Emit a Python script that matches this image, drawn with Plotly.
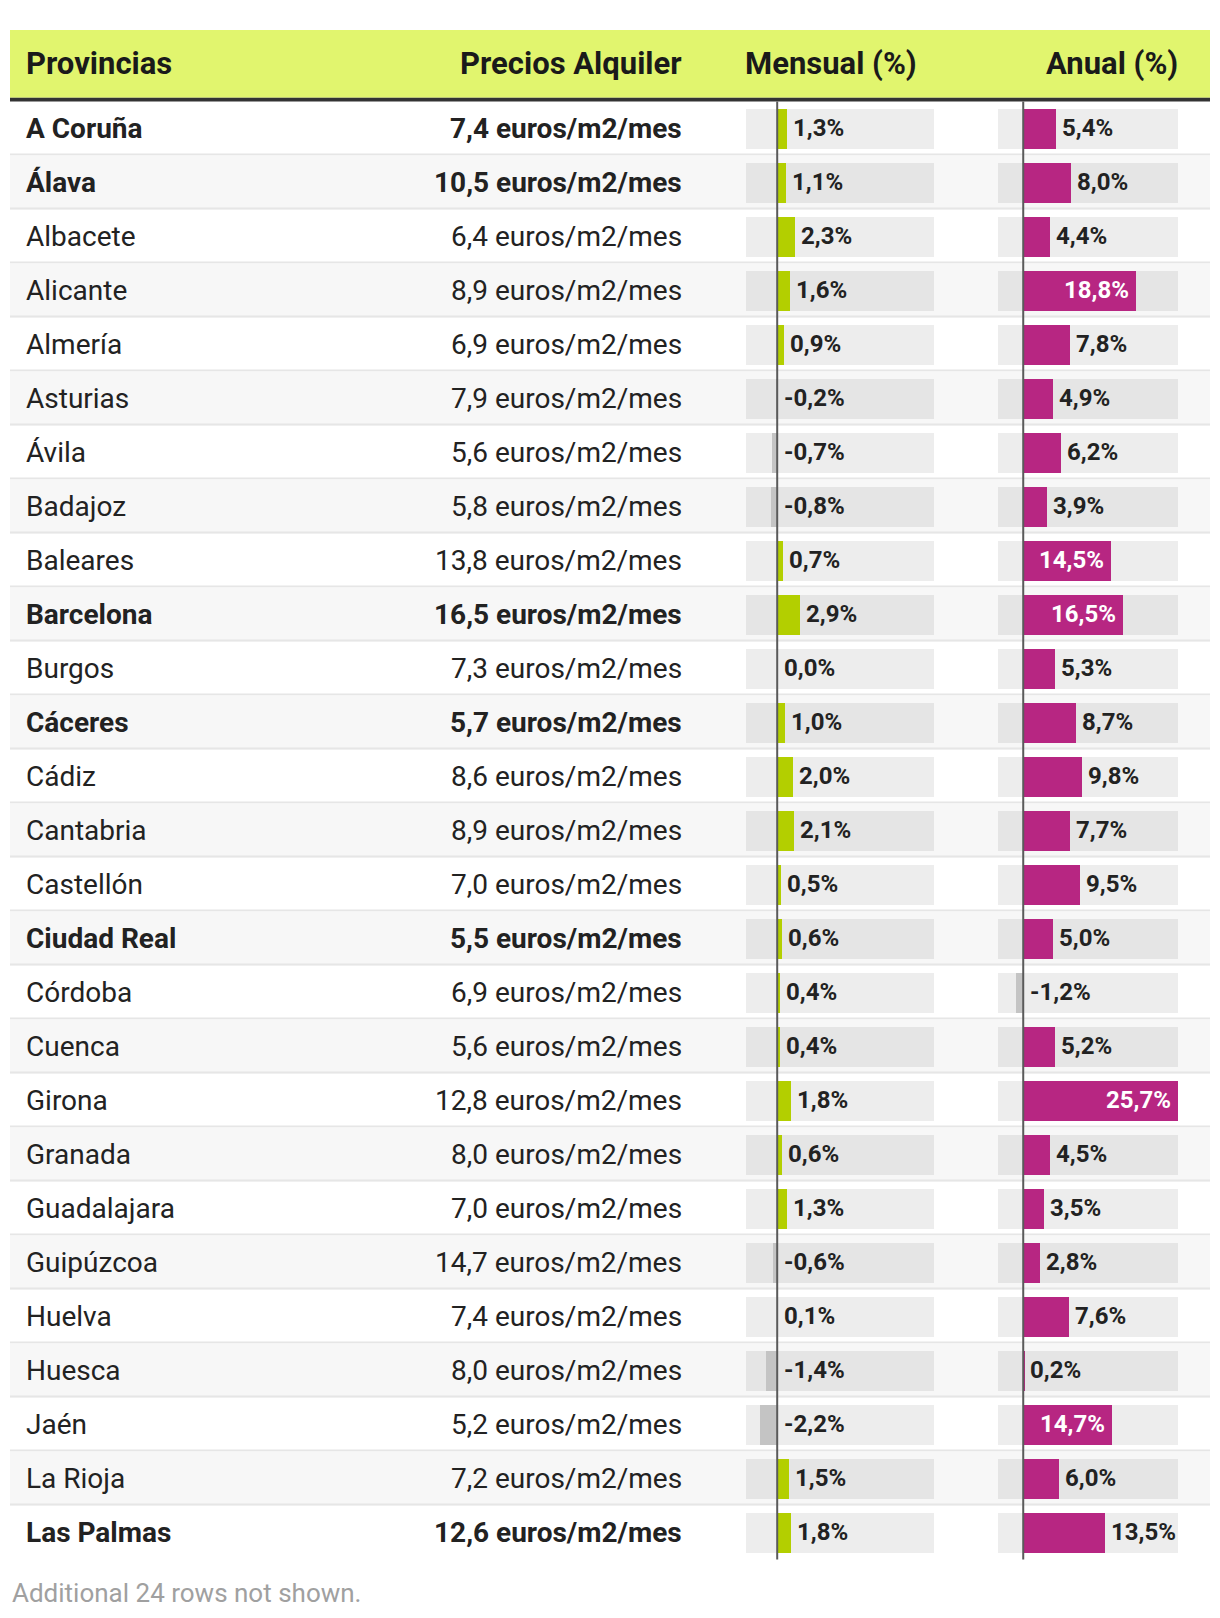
import plotly.graph_objects as go

provincias = ["A Coruña", "Álava", "Albacete", "Alicante", "Almería", "Asturias", "Ávila",
              "Badajoz", "Baleares", "Barcelona", "Burgos", "Cáceres", "Cádiz", "Cantabria",
              "Castellón", "Ciudad Real", "Córdoba", "Cuenca", "Girona", "Granada",
              "Guadalajara", "Guipúzcoa", "Huelva", "Huesca", "Jaén", "La Rioja", "Las Palmas"]
precios = [7.4, 10.5, 6.4, 8.9, 6.9, 7.9, 5.6, 5.8, 13.8, 16.5, 7.3, 5.7, 8.6, 8.9,
           7.0, 5.5, 6.9, 5.6, 12.8, 8.0, 7.0, 14.7, 7.4, 8.0, 5.2, 7.2, 12.6]
mensual = [1.3, 1.1, 2.3, 1.6, 0.9, -0.2, -0.7, -0.8, 0.7, 2.9, 0.0, 1.0, 2.0, 2.1,
           0.5, 0.6, 0.4, 0.4, 1.8, 0.6, 1.3, -0.6, 0.1, -1.4, -2.2, 1.5, 1.8]
anual = [5.4, 8.0, 4.4, 18.8, 7.8, 4.9, 6.2, 3.9, 14.5, 16.5, 5.3, 8.7, 9.8, 7.7,
         9.5, 5.0, -1.2, 5.2, 25.7, 4.5, 3.5, 2.8, 7.6, 0.2, 14.7, 6.0, 13.5]
destacadas = ["A Coruña", "Álava", "Barcelona", "Cáceres", "Ciudad Real", "Las Palmas"]
columnas = ["Provincias", "Precios Alquiler", "Mensual (%)", "Anual (%)"]
filas_ocultas = 24

FONT = "Roboto"
W, H = 1220, 1618
n = len(provincias)
filas = list(range(n))

rango_m = [-3.98, 20.0]
rango_a = [-4.19, 25.7]
ancho_barra = 0.741
sep = 0.037  # grosor del separador (2px)


def coma(v):
    return f"{v:.1f}".replace(".", ",")


def pct(v):
    return ("-" if v < 0 else "") + coma(abs(v)) + "%"


fig = go.Figure()

# cajas grises detras de las barras
for eje, rango in (("x2", rango_m), ("x3", rango_a)):
    fig.add_bar(y=filas, x=[rango[1] - rango[0]] * n, base=rango[0], orientation="h",
                xaxis=eje, yaxis="y", width=ancho_barra,
                marker=dict(color="rgba(0,0,0,0.07)", line_width=0), hoverinfo="skip")

fig.add_bar(y=filas, x=mensual, orientation="h", xaxis="x2", yaxis="y", width=ancho_barra,
            marker=dict(color=["#b3cf00" if v > 0 else "#c4c4c4" for v in mensual], line_width=0))
fig.add_bar(y=filas, x=anual, orientation="h", xaxis="x3", yaxis="y", width=ancho_barra,
            marker=dict(color=["#b72682" if v > 0 else "#c4c4c4" for v in anual], line_width=0))

shapes = []
# filas alternas y separadores
for i in filas:
    if i % 2 == 1:
        shapes.append(dict(type="rect", xref="x", yref="y", x0=10, x1=1210, y0=i - 0.5, y1=i + 0.5,
                           fillcolor="#f7f7f7", line_width=0, layer="below"))
    if i < n - 1:
        shapes.append(dict(type="rect", xref="x", yref="y", x0=10, x1=1210, y0=i + 0.5 - sep, y1=i + 0.5,
                           fillcolor="#e6e6e6", line_width=0, layer="below"))
# cabecera
shapes.append(dict(type="rect", xref="x", yref="y", x0=10, x1=1210, y0=-1.824, y1=-0.570,
                   fillcolor="#e1f56e", line_width=0, layer="below"))
shapes.append(dict(type="rect", xref="x", yref="y", x0=10, x1=1210, y0=-0.570, y1=-0.5,
                   fillcolor="#333333", line_width=0, layer="below"))
# lineas de cero
for eje in ("x2", "x3"):
    shapes.append(dict(type="line", xref=eje, yref="y", x0=0, x1=0, y0=-0.5, y1=n - 0.5,
                       line=dict(color="#5a5a5a", width=2), layer="above"))

ann = []
# cabecera
for txt, x, anc in zip(columnas, [24, 684, 743, 1180], ["left", "right", "left", "right"]):
    ann.append(dict(text=txt, xref="x", yref="y", x=x, y=-1.21, xanchor=anc, yanchor="middle",
                    showarrow=False, font=dict(family=FONT, size=31, color="#1a1a1a", weight="bold")))

for i, (p, pr) in enumerate(zip(provincias, precios)):
    peso = "bold" if p in destacadas else "normal"
    f = dict(family=FONT, size=28, color="#222222", weight=peso)
    ann.append(dict(text=p, xref="x", yref="y", x=24, y=i, xanchor="left", yanchor="middle",
                    showarrow=False, font=f))
    ann.append(dict(text=f"{coma(pr)} euros/m2/mes", xref="x", yref="y", x=684, y=i,
                    xanchor="right", yanchor="middle", showarrow=False, font=f))

# etiquetas de las barras
for eje, valores, umbral in (("x2", mensual, 99), ("x3", anual, 14)):
    for i, v in enumerate(valores):
        dentro = v >= umbral
        if dentro:
            desp = -5
        elif v > 0:
            desp = 4
        else:
            desp = 5
        ann.append(dict(text=pct(v), xref=eje, yref="y", x=max(v, 0), y=i - 0.01,
                        xanchor="right" if dentro else "left", xshift=desp,
                        yanchor="middle", showarrow=False,
                        font=dict(family=FONT, size=24, weight="bold",
                                  color="white" if dentro else "#222222")))

ann.append(dict(text=f"Additional {filas_ocultas} rows not shown.", xref="x", yref="y", x=10, y=27.12,
                xanchor="left", yanchor="middle", showarrow=False,
                font=dict(family=FONT, size=26, color="#a0a0a0")))

oculto = dict(visible=False, showgrid=False, zeroline=False, fixedrange=True)
fig.update_layout(
    width=W, height=H, margin=dict(l=0, r=0, t=0, b=0),
    paper_bgcolor="white", plot_bgcolor="rgba(0,0,0,0)",
    barmode="overlay", bargap=0, showlegend=False,
    xaxis=dict(range=[0, W], domain=[0, 1], **oculto),
    xaxis2=dict(range=rango_m, domain=[746 / W, 934 / W], anchor="y", **oculto),
    xaxis3=dict(range=rango_a, domain=[998 / W, 1178 / W], anchor="y", **oculto),
    yaxis=dict(range=[27.583, -2.380], domain=[0, 1], anchor="x", **oculto),
    shapes=shapes, annotations=ann,
)

fig.write_html("out.html", config={"displayModeBar": False},
               post_script="document.body.style.margin='0';")
